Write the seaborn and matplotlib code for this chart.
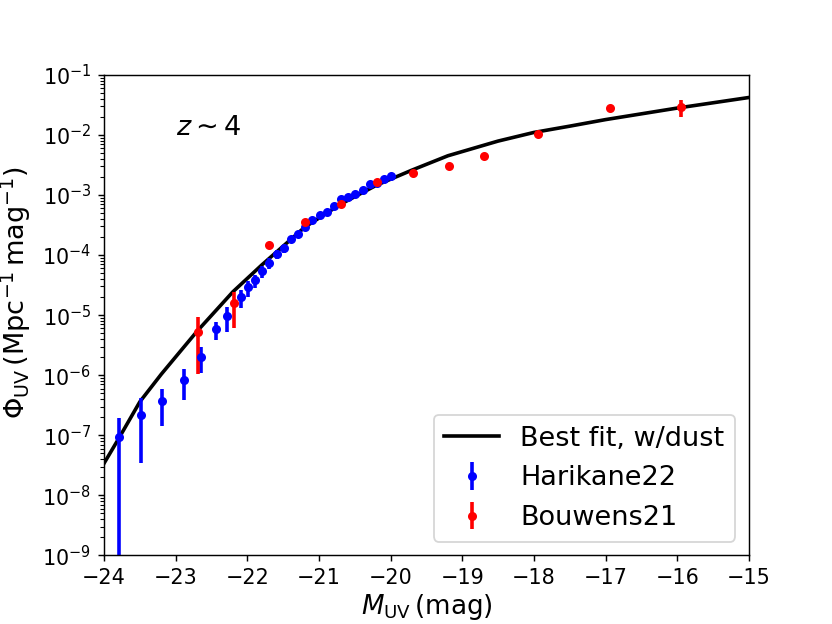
"""UV luminosity function at z~4: best fit with dust vs. Harikane22 / Bouwens21"""
import numpy as np
import matplotlib
matplotlib.use("Agg")
import matplotlib.pyplot as plt
import seaborn as sns
from matplotlib.ticker import LogLocator

# best-fit model curve
fit_muv = [-24.0, -23.8, -23.5, -23.2, -22.9, -22.7, -22.2, -21.8, -21.2, -20.7,
           -20.2, -19.7, -19.2, -18.5, -18.0, -17.5, -17.0, -16.0, -15.0]
fit_phi = [3.4e-8, 8.6e-8, 3.6e-7, 1.04e-6, 2.8e-6, 5.4e-6, 2.45e-5, 6.8e-5, 2.9e-4, 7.0e-4,
           1.45e-3, 2.6e-3, 4.5e-3, 7.9e-3, 1.1e-2, 1.4e-2, 1.8e-2, 2.8e-2, 4.2e-2]

# Harikane22
h22_muv = [-23.79, -23.49, -23.19, -22.89, -22.64, -22.44, -22.29, -22.09, -21.99, -21.89,
           -21.79, -21.69, -21.59, -21.49, -21.39, -21.29, -21.19, -21.09, -20.99, -20.89,
           -20.79, -20.69, -20.59, -20.49, -20.38, -20.29, -20.19, -20.09, -19.99]
h22_phi = [9.4e-8, 2.2e-7, 3.7e-7, 8.3e-7, 2.0e-6, 5.8e-6, 9.5e-6, 2.0e-5, 2.9e-5, 3.8e-5,
           5.5e-5, 7.4e-5, 1.04e-4, 1.29e-4, 1.85e-4, 2.26e-4, 2.9e-4, 3.9e-4, 4.7e-4, 5.3e-4,
           6.6e-4, 8.5e-4, 9.3e-4, 1.05e-3, 1.21e-3, 1.51e-3, 1.58e-3, 1.83e-3, 2.07e-3]
h22_lo = [9.39e-8, 1.85e-7, 2.3e-7, 4.4e-7, 0.9e-6, 2.0e-6, 4.2e-6, 0.7e-5, 0.9e-5, 1.0e-5,
          1.3e-5, 1.5e-5, 1.8e-5, 2.0e-5, 2.6e-5, 2.9e-5, 3.4e-5, 4.2e-5, 4.8e-5, 5.2e-5,
          6.2e-5, 7.8e-5, 8.5e-5, 9.6e-5, 1.1e-4, 1.4e-4, 1.5e-4, 1.8e-4, 2.2e-4]
h22_hi = [0.96e-7, 1.9e-7, 2.3e-7, 4.3e-7, 0.9e-6, 1.9e-6, 3.9e-6, 0.6e-5, 0.8e-5, 0.9e-5,
          1.2e-5, 1.4e-5, 1.7e-5, 1.9e-5, 2.5e-5, 2.8e-5, 3.3e-5, 4.1e-5, 4.7e-5, 5.1e-5,
          6.0e-5, 7.6e-5, 8.3e-5, 9.4e-5, 1.1e-4, 1.4e-4, 1.5e-4, 1.8e-4, 2.2e-4]

# Bouwens21
b21_muv = [-22.69, -22.19, -21.69, -21.19, -20.69, -20.19, -19.69, -19.19, -18.69, -17.94,
           -16.94, -15.94]
b21_phi = [5.15e-6, 1.57e-5, 1.45e-4, 3.5e-4, 7.2e-4, 1.65e-3, 2.3e-3, 3.08e-3, 4.4e-3, 1.04e-2,
           2.79e-2, 2.9e-2]
b21_lo = [4.1e-6, 9.6e-6, 1.1e-5, 2.4e-5, 3.8e-5, 8.0e-5, 1.0e-4, 1.4e-4, 3.0e-4, 6.0e-4,
          1.2e-3, 9.0e-3]
b21_hi = [4.0e-6, 8.9e-6, 1.1e-5, 2.4e-5, 3.8e-5, 8.0e-5, 1.0e-4, 1.4e-4, 3.0e-4, 6.0e-4,
          1.2e-3, 9.0e-3]

fig, ax = plt.subplots(figsize=(6.4, 4.8), dpi=130)

sns.lineplot(x=fit_muv, y=fit_phi, color="k", lw=2, label="Best fit, w/dust", ax=ax)
ax.errorbar(h22_muv, h22_phi, yerr=[h22_lo, h22_hi], fmt="o", color="b",
            ms=4, elinewidth=2, label="Harikane22")
ax.errorbar(b21_muv, b21_phi, yerr=[b21_lo, b21_hi], fmt="o", color="r",
            ms=4, elinewidth=2, label="Bouwens21")

ax.set_yscale("log")
ax.set_xlim(-24, -15)
ax.set_ylim(1e-9, 1e-1)
ax.yaxis.set_major_locator(LogLocator(base=10, numticks=12))
ax.tick_params(labelsize=11.5)

ax.set_xlabel(r"$M_{\rm UV}\,$(mag)", fontsize=14.5, labelpad=2)
ax.set_ylabel(r"$\Phi_{\rm UV}\,({\rm Mpc^{-1}\,mag^{-1}})$", fontsize=15)
ax.yaxis.set_label_coords(-0.11, 0.546)
ax.text(0.111, 0.875, r"$z \sim 4$", transform=ax.transAxes, fontsize=15, va="baseline")

ax.legend(loc="lower right", fontsize=15)

fig.savefig("out.png", dpi=130)
